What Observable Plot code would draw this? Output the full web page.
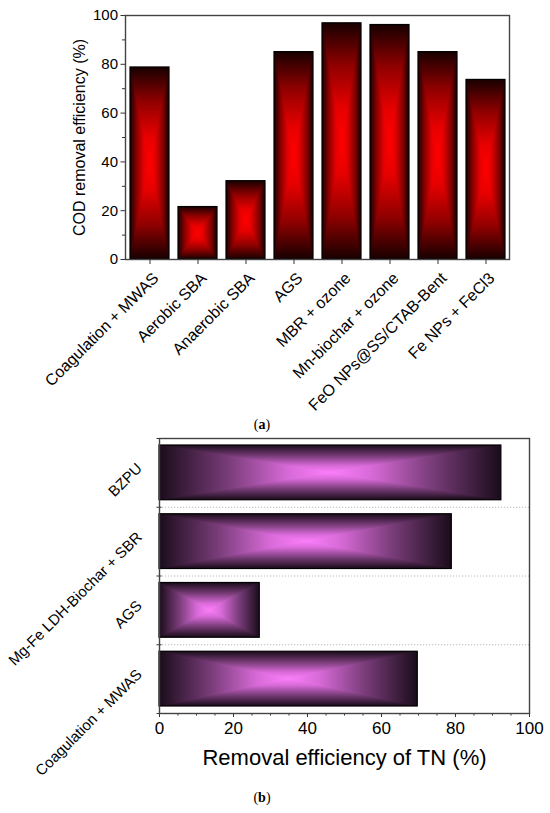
<!DOCTYPE html>
<html><head><meta charset="utf-8">
<script src="https://cdn.jsdelivr.net/npm/d3@7"></script>
<script src="https://cdn.jsdelivr.net/npm/@observablehq/plot@0.6"></script>
<style>
body{margin:0;background:#fff;}
#wrap{position:relative;width:550px;height:813px;overflow:hidden;}
#wrap svg{position:absolute;left:0;}
.cap{position:absolute;width:100px;text-align:center;font-family:"Liberation Serif","Times New Roman",serif;font-size:14px;line-height:14px;color:#000;}
</style></head><body><div id="wrap"></div>
<script>
// ---- data (a) ----
const codCategories = ["Coagulation + MWAS","Aerobic SBA","Anaerobic SBA","AGS","MBR + ozone","Mn-biochar + ozone","FeO NPs@SS/CTAB-Bent","Fe NPs + FeCl3"];
const codValues = [78.7, 21.5, 32.1, 85.0, 96.8, 96.1, 85.0, 73.6];
const codTicks = [0, 20, 40, 60, 80, 100];
const codMinorTicks = [10, 30, 50, 70, 90];
const codLabel = "COD removal efficiency (%)";
// ---- data (b) (bottom to top) ----
const tnCategories = ["Coagulation + MWAS","AGS","Mg-Fe LDH-Biochar + SBR","BZPU"];
const tnValues = [69.8, 27.1, 79.0, 92.4];
const tnTicks = [0, 20, 40, 60, 80, 100];
const tnMinorTicks = [5, 10, 15, 25, 30, 35, 45, 50, 55, 65, 70, 75, 85, 90, 95];
const tnLabel = "Removal efficiency of TN (%)";

const font = '"Liberation Sans", Arial, sans-serif';
const wrap = document.getElementById("wrap");

function addGradient(svg, id, stops, markType) {
  const s = d3.select(svg);
  const defs = s.insert("defs", ":first-child");
  for (const [suffix, x2, y2] of [["H", 1, 0], ["V", 0, 1]]) {
    const g = defs.append("linearGradient").attr("id", id + suffix)
      .attr("x1", 0).attr("y1", 0).attr("x2", x2).attr("y2", y2);
    for (const [o, c] of stops) g.append("stop").attr("offset", o).attr("stop-color", c);
  }
  const cp = defs.append("clipPath").attr("id", id + "Clip").attr("clipPathUnits", "objectBoundingBox");
  cp.append("polygon").attr("points", "0,0 1,0 0.5,0.5");
  cp.append("polygon").attr("points", "0,1 1,1 0.5,0.5");
  const groups = s.selectAll(`g[aria-label="${markType}"]`).nodes();
  d3.select(groups[1]).selectAll("rect").attr("clip-path", `url(#${id}Clip)`);
}

// ---------- chart (a) ----------
const codData = codCategories.map((name, i) => ({name, value: codValues[i]}));
const svgA = Plot.plot({
  width: 550, height: 415,
  marginLeft: 125, marginRight: 41, marginTop: 15, marginBottom: 156,
  style: {fontFamily: font, color: "#000", background: "transparent", overflow: "visible"},
  x: {domain: codCategories, paddingInner: 0.19, paddingOuter: 0.09, label: null},
  y: {domain: [0, 100], label: null},
  marks: [
    Plot.barY(codData, {x: "name", y: "value", fill: "url(#redH)"}),
    Plot.barY(codData, {x: "name", y: "value", fill: "url(#redV)"}),
    Plot.barY(codData, {x: "name", y: "value", fill: "none", stroke: "#000", strokeWidth: 1.2}),
    Plot.axisY({ticks: codTicks, tickSize: 4.5, tickPadding: 3, fontSize: 15, label: null, stroke: "#333"}),
    Plot.axisY({ticks: codMinorTicks, tickSize: 3, tickFormat: () => "", label: null, stroke: "#333"}),
    Plot.axisX({tickSize: 5, tickFormat: () => "", label: null, stroke: "#333"}),
    Plot.axisX({tickRotate: -45, tickSize: 5, tickPadding: 3, fontSize: 16, label: null, stroke: "none", dx: 6, dy: 8}),
    Plot.text([codLabel], {text: d => d, frameAnchor: "left", textAnchor: "middle", dx: -46, rotate: -90, fontSize: 16}),
    Plot.frame({stroke: "#444", strokeWidth: 1.4})
  ]
});
svgA.style.top = "0px";
wrap.appendChild(svgA);
addGradient(svgA, "red", [[0, "#180000"], [0.18, "#900000"], [0.36, "#e60000"], [0.5, "#ff0000"], [0.64, "#e60000"], [0.82, "#900000"], [1, "#180000"]], "bar");

const capA = document.createElement("div");
capA.className = "cap"; capA.innerHTML = "(<b>a</b>)";
capA.style.left = "212px"; capA.style.top = "418px";
wrap.appendChild(capA);

// ---------- chart (b) ----------
const tnData = tnCategories.map((name, i) => ({name, value: tnValues[i], pos: i}));
const tnBoundaries = tnCategories.slice(1).map((_, i) => i + 1);
const tnEdges = [0, ...tnBoundaries, tnCategories.length];
const tnCenters = tnCategories.map((_, i) => i + 0.5);
const svgB = Plot.plot({
  width: 550, height: 360,
  marginLeft: 159, marginRight: 21, marginTop: 8, marginBottom: 77,
  style: {fontFamily: font, color: "#000", background: "transparent", overflow: "visible"},
  x: {domain: [0, 100], label: null},
  y: {domain: [0, tnCategories.length], label: null},
  marks: [
    Plot.ruleY(tnBoundaries, {stroke: "#b8b8b8", strokeDasharray: "1.2,1.8", strokeWidth: 1}),
    Plot.rectX(tnData, {x1: 0, x2: "value", y1: d => d.pos, y2: d => d.pos + 1, insetTop: 7, insetBottom: 7, fill: "url(#pinkH)"}),
    Plot.rectX(tnData, {x1: 0, x2: "value", y1: d => d.pos, y2: d => d.pos + 1, insetTop: 7, insetBottom: 7, fill: "url(#pinkV)"}),
    Plot.rectX(tnData, {x1: 0, x2: "value", y1: d => d.pos, y2: d => d.pos + 1, insetTop: 7, insetBottom: 7, fill: "none", stroke: "#000", strokeWidth: 1.2}),
    Plot.axisY({ticks: tnCenters, tickFormat: d => tnCategories[Math.floor(d)], tickSize: 0, tickPadding: 20, tickRotate: -45, fontSize: 15, label: null, dy: -7}),
    Plot.axisY({ticks: tnEdges, tickSize: 5, dx: 2.5, tickFormat: () => "", label: null, stroke: "#333"}),
    Plot.axisX({ticks: tnTicks, tickSize: 4, tickPadding: 4, fontSize: 17, label: null, stroke: "#333"}),
    Plot.axisX({ticks: tnMinorTicks, tickSize: 2.5, tickFormat: () => "", label: null, stroke: "#333"}),
    Plot.text([tnLabel], {text: d => d, frameAnchor: "bottom", dy: 51, fontSize: 22}),
    Plot.frame({stroke: "#444", strokeWidth: 1.4})
  ]
});
svgB.style.top = "430px";
wrap.appendChild(svgB);
addGradient(svgB, "pink", [[0, "#1a0c1a"], [0.2, "#783c78"], [0.38, "#d86ad8"], [0.5, "#fb7efb"], [0.62, "#d86ad8"], [0.8, "#783c78"], [1, "#1a0c1a"]], "rect");

const capB = document.createElement("div");
capB.className = "cap"; capB.innerHTML = "(<b>b</b>)";
capB.style.left = "212px"; capB.style.top = "791px";
wrap.appendChild(capB);
</script></body></html>
